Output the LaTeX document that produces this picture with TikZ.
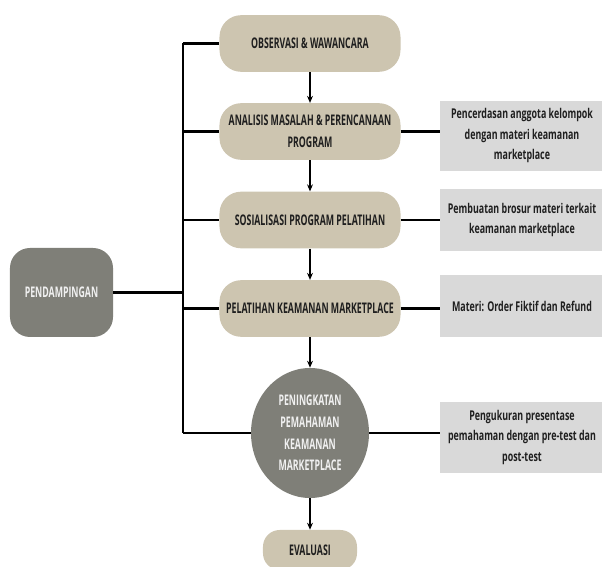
\documentclass[tikz,border=0pt]{standalone}
\usepackage{fontspec}
\setmainfont[FakeStretch=0.6]{Open Sans}
\newfontfamily\noteFont[FakeStretch=0.66]{Open Sans}
\usetikzlibrary{arrows.meta,shapes.geometric}

\definecolor{tanFill}{HTML}{CDC5B0}
\definecolor{darkFill}{HTML}{7F7F78}
\definecolor{noteFill}{HTML}{D9D9D9}

\begin{document}
\begin{tikzpicture}[%%
  x=0.03cm,y=-0.03cm,
  stepStyle/.style={rounded corners=0.65cm,fill=tanFill,align=center,
    minimum width=5.43cm,minimum height=1.7cm,inner sep=0pt,
    text=black!88,font=\bfseries\fontsize{12.5}{19}\selectfont},
  darkStyle/.style={fill=darkFill,align=center,inner sep=0pt,
    text=white!94!black,font=\bfseries\fontsize{12.5}{18.5}\selectfont},
  noteStyle/.style={fill=noteFill,align=center,inner sep=0pt,
    minimum width=4.92cm,text=black!88,
    font=\noteFont\bfseries\fontsize{11.5}{17.5}\selectfont},
  busStyle/.style={-,line width=2pt},
  flowStyle/.style={-{Stealth[length=6pt,width=5pt]},line width=1.1pt}
]
\useasboundingbox (0,0) rectangle (602,567);
%%
%% Main steps, top to bottom.
\node[stepStyle] (obs) at (310,43.5) {OBSERVASI \& WAWANCARA};
\node[stepStyle] (ana) at (310,131.5) {ANALISIS MASALAH \& PERENCANAAN\\PROGRAM};
\node[stepStyle] (sos) at (310,220) {SOSIALISASI PROGRAM PELATIHAN};
\node[stepStyle] (pel) at (310,308.5) {PELATIHAN KEAMANAN MARKETPLACE};
\node[darkStyle,ellipse,minimum width=3.54cm,minimum height=3.9cm] (pen)
  at (310,433) {PENINGKATAN\\PEMAHAMAN\\KEAMANAN\\MARKETPLACE};
\node[stepStyle,rounded corners=0.5cm,minimum width=2.82cm,minimum height=1.2cm]
  (eva) at (310,550) {EVALUASI};
%%
%% The root on the left.
\node[darkStyle,rounded corners=0.6cm,minimum width=3.09cm,minimum height=2.67cm]
  (pend) at (61.5,292.5) {PENDAMPINGAN};
%%
%% Notes on the right.
\node[noteStyle,minimum height=2.1cm] (noteA) at (522,136) {Pencerdasan anggota kelompok\\dengan materi keamanan\\marketplace};
\node[noteStyle,minimum height=1.86cm] (noteB) at (522,220) {Pembuatan brosur materi terkait\\keamanan marketplace};
\node[noteStyle,minimum height=1.86cm] (noteC) at (522,306) {Materi: Order Fiktif dan Refund};
\node[noteStyle,minimum height=2.13cm] (noteD) at (522,437.5) {Pengukuran presentase\\pemahaman dengan pre-test dan\\post-test};
%%
%% The bus from the root.
\coordinate (busTop) at (183,43.5);
\coordinate (busEnd) at (183,433);
\path[busStyle,draw] (busTop) -- (busEnd);
\path[busStyle,draw] (pend.east) -- (pend.east -| busTop);
\foreach \n in {obs,ana,sos,pel,pen}
  \path[busStyle,draw] (\n.west -| busTop) -- (\n.west);
%% Links to the notes.
\foreach \n/\m in {ana/noteA,sos/noteB,pel/noteC,pen/noteD}
  \path[busStyle,draw] (\n.east) -- (\n.east -| \m.west);
%% The flow down.
\foreach \a/\b in {obs/ana,ana/sos,sos/pel,pel/pen,pen/eva}
  \draw[flowStyle] (\a.south) -- (\b.north);
\end{tikzpicture}
\end{document}
